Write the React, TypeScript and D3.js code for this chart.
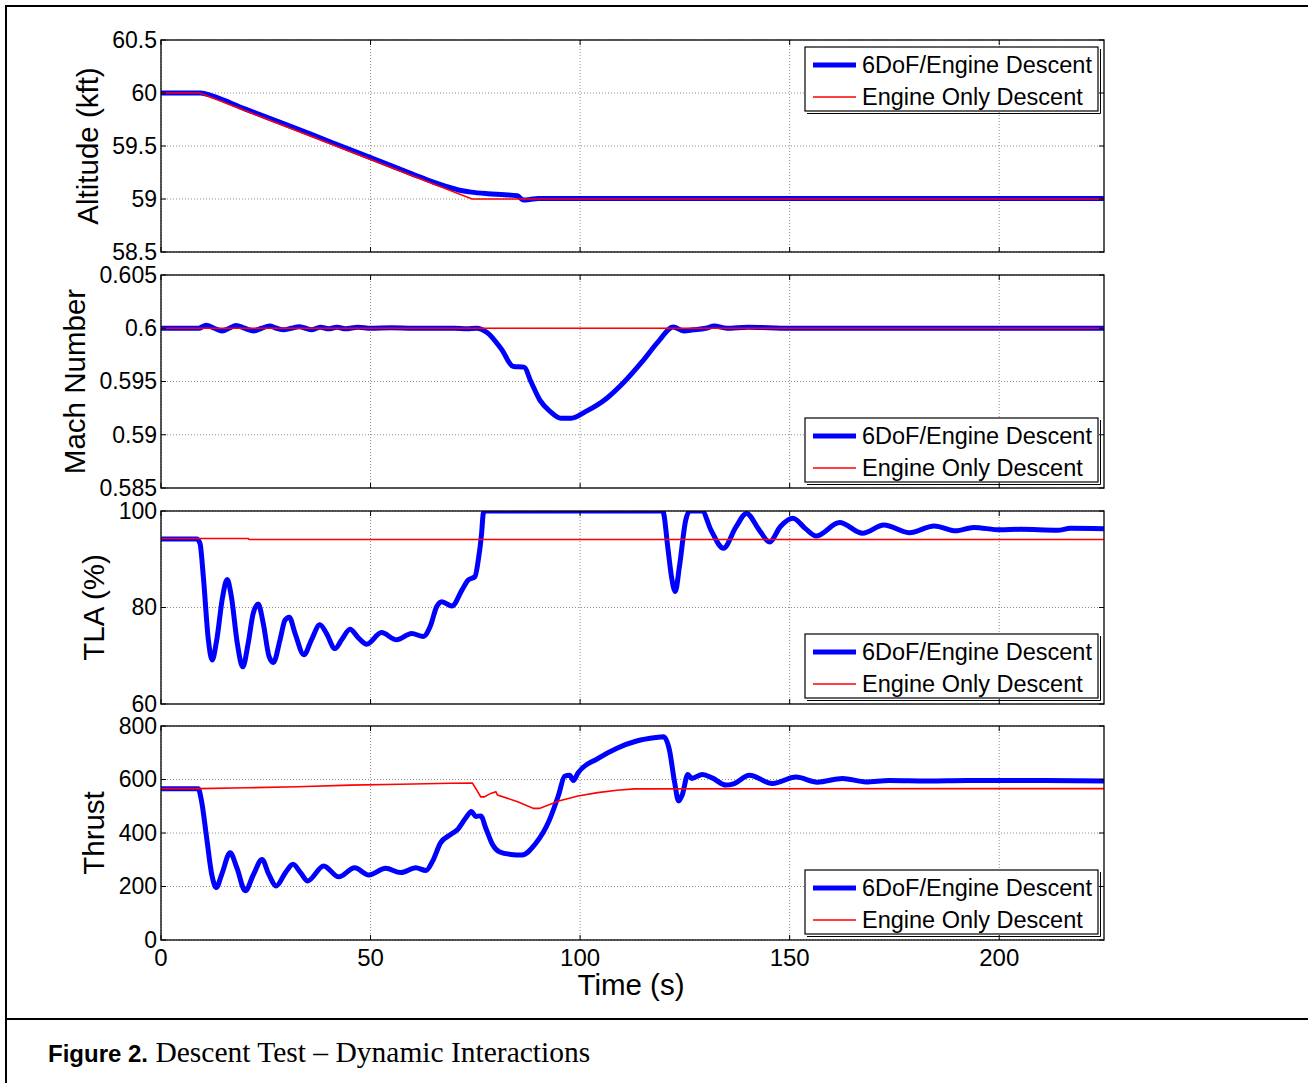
import React from "react";
import * as d3 from "d3";

// time axis
const timeDomain = [0, 225];
const timeTicks = [0, 50, 100, 150, 200];

// altitude (kft)
const altTicks = [58.5, 59, 59.5, 60, 60.5];
const alt6dofT = [0, 9.5, 12, 20, 30, 40, 50, 60, 65, 68, 71, 74, 78, 82, 85, 86.5, 88, 90, 100, 225];
const alt6dofV = [60, 60, 59.975, 59.85, 59.7, 59.545, 59.39, 59.235, 59.16, 59.12, 59.085, 59.065, 59.05, 59.04, 59.03, 58.99, 58.995, 59.005, 59.005, 59.005];
const altEngT = [0, 9.3, 74.2, 225];
const altEngV = [60, 60, 59.0, 59.0];

// mach number
const machTicks = [0.585, 0.59, 0.595, 0.6, 0.605];
const mach6dofT = [0, 9, 10.8, 12.7, 14.6, 16.3, 17.9, 20, 22.1, 24, 25.9, 27.6, 29.2, 31.1, 33, 34.5, 35.9, 38, 40, 42, 44, 47, 50, 55, 60, 65, 70, 73, 75.3, 77.8, 81.2, 84.1, 86.6, 88.3, 90.4, 92.9, 95.4, 97.9, 101.3, 106.3, 110.5, 114.7, 118.8, 122.2, 124.7, 127, 130, 132, 135, 140, 150, 160, 225];
const mach6dofV = [0.6, 0.6, 0.60028, 0.6, 0.59975, 0.6, 0.60025, 0.6, 0.59975, 0.6, 0.6002, 0.6, 0.59985, 0.6, 0.60015, 0.6, 0.59985, 0.6001, 0.59995, 0.6001, 0.59995, 0.6001, 0.6, 0.60005, 0.6, 0.6, 0.6, 0.59995, 0.6, 0.5996, 0.59805, 0.59641, 0.59635, 0.59495, 0.59325, 0.59217, 0.59155, 0.59155, 0.59217, 0.59341, 0.59495, 0.59681, 0.59882, 0.60012, 0.59975, 0.59985, 0.6, 0.6002, 0.6, 0.6001, 0.6, 0.6, 0.6];
const machEngT = [0, 225];
const machEngV = [0.6, 0.6];

// throttle lever angle (%)
const tlaTicks = [60, 80, 100];
const tla6dofT = [0, 8.5, 9.3, 10.1, 11.3, 12.2, 13.3, 14.7, 15.8, 16.8, 18.2, 19.5, 20.8, 22, 23.2, 24.4, 25.8, 26.8, 28.4, 29.6, 30.6, 32, 34.1, 35.9, 37.9, 39.5, 41.5, 43.1, 45.1, 47.1, 49.1, 52.6, 56.2, 59.8, 62.6, 64.2, 65.8, 67, 69.4, 71.8, 73.3, 74.9, 75.7, 76.5, 76.9, 77.3, 119.7, 121, 121.8, 122.7, 123.7, 125.2, 126.1, 129.1, 131.2, 134.2, 137.2, 139.7, 142.7, 145.2, 147.8, 150.8, 153.7, 156.3, 161.9, 167.4, 172.5, 178.5, 184.5, 189.6, 193.9, 200.2, 205, 213.9, 217, 225];
const tla6dofV = [94.2, 94.2, 93.3, 86.4, 73.3, 69.1, 73.3, 82.2, 85.8, 82.2, 72.6, 67.7, 72.6, 78.8, 80.7, 76.7, 69.8, 68.6, 73.3, 77.4, 78.0, 74.6, 70.2, 73.3, 76.4, 74.6, 71.5, 73.3, 75.5, 73.7, 72.4, 74.8, 73.3, 74.6, 74.0, 76.0, 80.2, 81.2, 80.3, 83.6, 85.7, 86.4, 89.8, 95.4, 99.5, 100, 100, 91.9, 86.4, 83.3, 88.5, 98.1, 100, 100, 96.1, 92.3, 96.7, 99.5, 96.1, 93.6, 96.8, 98.5, 96.4, 94.8, 97.6, 95.4, 97.1, 95.5, 96.9, 95.9, 96.6, 96.1, 96.2, 96.0, 96.4, 96.3];
const tlaEngT = [0, 20.8, 21, 225];
const tlaEngV = [94.3, 94.3, 94.1, 94.1];

// thrust
const thrustTicks = [0, 200, 400, 600, 800];
const thrust6dofT = [0, 8.9, 9.7, 10.9, 12.1, 13.2, 14.5, 16.5, 18.1, 20.1, 22.1, 24.1, 25.7, 27.5, 29.7, 31.5, 33.3, 35, 38.8, 42.4, 46.2, 49.6, 53.6, 57.2, 60.8, 63.2, 64.8, 66.7, 69.1, 70.7, 72.7, 74.1, 75.1, 76.3, 77.5, 79.1, 80.7, 83.5, 86.1, 89.3, 92.6, 94.9, 96.3, 97.5, 98.4, 99.5, 104.2, 108.8, 113.5, 118.1, 119.9, 121.3, 122.5, 123.5, 124.4, 125.7, 126.6, 129.2, 131.5, 134.8, 136.6, 140.4, 145.9, 151.5, 156.6, 162.6, 168.2, 173.7, 183, 192.3, 210.8, 225];
const thrust6dofV = [565, 565, 517, 381, 246, 196, 246, 326, 270, 184, 246, 301, 246, 202, 252, 283, 252, 221, 277, 236, 270, 243, 268, 252, 270, 260, 295, 363, 394, 412, 456, 480, 462, 464, 418, 357, 330, 320, 318, 359, 446, 544, 612, 616, 596, 625, 678, 717, 744, 757, 760, 711, 594, 520, 544, 619, 604, 619, 606, 579, 584, 616, 585, 609, 590, 604, 591, 596, 594, 596, 596, 594];
const thrustEngT = [0, 9, 20.5, 32.5, 45.2, 57.2, 69.1, 74.3, 75.1, 76.3, 77.1, 78.7, 79.9, 80.3, 85.1, 88.9, 90.3, 94.9, 99.5, 104.2, 108.8, 113, 225];
const thrustEngV = [566, 566, 569, 573, 579, 582, 586, 587, 567, 535, 535, 548, 554, 542, 517, 492, 492, 520, 538, 551, 560, 565, 566];

const seriesNames = ["6DoF/Engine Descent", "Engine Only Descent"];

const zip = (t: number[], v: number[]) => t.map((d, i) => [d, v[i]] as [number, number]);

const panels = [
  { id: "alt", label: "Altitude (kft)", labelX: 87, top: 40, bottom: 252, ticks: altTicks, fmt: (d: number) => String(d), blue: zip(alt6dofT, alt6dofV), red: zip(altEngT, altEngV), legendTop: true },
  { id: "mach", label: "Mach Number", labelX: 74, top: 275, bottom: 488, ticks: machTicks, fmt: (d: number) => String(+d.toFixed(3)), blue: zip(mach6dofT, mach6dofV), red: zip(machEngT, machEngV), legendTop: false },
  { id: "tla", label: "TLA (%)", labelX: 93, top: 511, bottom: 704, ticks: tlaTicks, fmt: (d: number) => String(d), blue: zip(tla6dofT, tla6dofV), red: zip(tlaEngT, tlaEngV), legendTop: false },
  { id: "thrust", label: "Thrust", labelX: 93, top: 726, bottom: 940, ticks: thrustTicks, fmt: (d: number) => String(d), blue: zip(thrust6dofT, thrust6dofV), red: zip(thrustEngT, thrustEngV), legendTop: false },
];

const SANS = "'Liberation Sans', Arial, sans-serif";
const SERIF = "'Liberation Serif', 'Times New Roman', serif";

export default function App() {
  const left = 161, right = 1104;
  const x = d3.scaleLinear().domain(timeDomain).range([left, right]);
  const tickLen = 5;

  return (
    <svg width={1308} height={1083} style={{ position: "absolute", left: 0, top: 0, background: "#fff" }}>
      {/* outer frame */}
      <line x1={6} y1={6} x2={1308} y2={6} stroke="#000" strokeWidth={2} />
      <line x1={6} y1={5} x2={6} y2={1083} stroke="#000" strokeWidth={2} />
      <line x1={6} y1={1019} x2={1308} y2={1019} stroke="#000" strokeWidth={2} />

      {panels.map((p, pi) => {
        const ext = d3.extent(p.ticks) as [number, number];
        const y = d3.scaleLinear().domain(ext).range([p.bottom, p.top]);
        const blueLine = d3.line<[number, number]>().x((d) => x(d[0])).y((d) => y(d[1])).curve(d3.curveMonotoneX);
        const redLine = d3.line<[number, number]>().x((d) => x(d[0])).y((d) => y(d[1]));
        const legH = 64, legW = 293;
        const legX = 805;
        const legY = p.legendTop ? p.top + 7 : p.bottom - 6 - legH;
        const isLast = pi === panels.length - 1;
        return (
          <g key={p.id}>
            <defs>
              <clipPath id={`clip-${p.id}`}>
                <rect x={left} y={p.top} width={right - left} height={p.bottom - p.top} />
              </clipPath>
            </defs>
            {/* grid */}
            {timeTicks.map((t) => (
              <line key={`gx${t}`} x1={x(t)} x2={x(t)} y1={p.top} y2={p.bottom} stroke="#8c8c8c" strokeWidth={1} strokeDasharray="1 2" />
            ))}
            {p.ticks.map((v) => (
              <line key={`gy${v}`} x1={left} x2={right} y1={y(v)} y2={y(v)} stroke="#8c8c8c" strokeWidth={1} strokeDasharray="1 2" />
            ))}
            {/* series */}
            <g clipPath={`url(#clip-${p.id})`}>
              <path d={blueLine(p.blue) || ""} fill="none" stroke="#0000ff" strokeWidth={5} strokeLinejoin="round" />
              <path d={redLine(p.red) || ""} fill="none" stroke="#ff0000" strokeWidth={1.6} />
            </g>
            {/* box and ticks */}
            <rect x={left} y={p.top} width={right - left} height={p.bottom - p.top} fill="none" stroke="#000" strokeWidth={1.3} />
            {timeTicks.map((t) => (
              <g key={`tx${t}`}>
                <line x1={x(t)} x2={x(t)} y1={p.bottom} y2={p.bottom - tickLen} stroke="#000" />
                <line x1={x(t)} x2={x(t)} y1={p.top} y2={p.top + tickLen} stroke="#000" />
              </g>
            ))}
            {p.ticks.map((v) => (
              <g key={`ty${v}`}>
                <line x1={left} x2={left + tickLen} y1={y(v)} y2={y(v)} stroke="#000" />
                <line x1={right} x2={right - tickLen} y1={y(v)} y2={y(v)} stroke="#000" />
                <text x={157} y={y(v)} dy="0.34em" textAnchor="end" fontFamily={SANS} fontSize={23}>{p.fmt(v)}</text>
              </g>
            ))}
            {isLast && timeTicks.map((t) => (
              <text key={`lx${t}`} x={x(t)} y={966} textAnchor="middle" fontFamily={SANS} fontSize={24}>{t}</text>
            ))}
            {/* y label */}
            <text transform={`translate(${p.labelX},${(p.top + p.bottom) / 2}) rotate(-90)`} textAnchor="middle" dy="0.36em" fontFamily={SANS} fontSize={29.5}>{p.label}</text>
            {/* legend */}
            <g>
              <line x1={legX + 2} y1={legY + legH + 2.5} x2={legX + legW + 2.5} y2={legY + legH + 2.5} stroke="#000" strokeWidth={1} />
              <line x1={legX + legW + 2.5} y1={legY + 2} x2={legX + legW + 2.5} y2={legY + legH + 2.5} stroke="#000" strokeWidth={1} />
              <rect x={legX} y={legY} width={legW} height={legH} fill="#fff" stroke="#000" strokeWidth={1.2} />
              <line x1={legX + 8} x2={legX + 51} y1={legY + 18} y2={legY + 18} stroke="#0000ff" strokeWidth={5} />
              <text x={legX + 57} y={legY + 18} dy="0.36em" fontFamily={SANS} fontSize={23.5}>{seriesNames[0]}</text>
              <line x1={legX + 8} x2={legX + 51} y1={legY + 50} y2={legY + 50} stroke="#ff0000" strokeWidth={1.6} />
              <text x={legX + 57} y={legY + 50} dy="0.36em" fontFamily={SANS} fontSize={23.5}>{seriesNames[1]}</text>
            </g>
          </g>
        );
      })}

      <text x={631} y={995} textAnchor="middle" fontFamily={SANS} fontSize={29.5}>Time (s)</text>

      <text x={48} y={1062} fontFamily={SERIF} fontSize={29.5}>
        <tspan fontFamily={SANS} fontWeight="bold" fontSize={24}>Figure 2.</tspan>
        <tspan> Descent Test – Dynamic Interactions</tspan>
      </text>
    </svg>
  );
}
